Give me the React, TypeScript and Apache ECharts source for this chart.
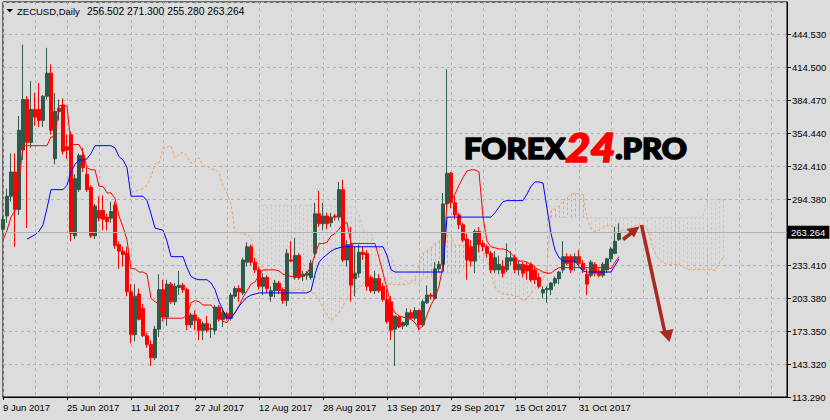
import React, { useEffect, useRef } from 'react';
import * as echarts from 'echarts';

// ---------- axis / categories ----------
const START_UTC = Date.UTC(2017, 5, 9);
const TOTAL_BARS = 197; // daily bars incl. the forward-shifted cloud area
const LAST_LABEL_INDEX = 154;
const MONTHS = ['Jan', 'Feb', 'Mar', 'Apr', 'May', 'Jun', 'Jul', 'Aug', 'Sep', 'Oct', 'Nov', 'Dec'];
const categories: string[] = Array.from({ length: TOTAL_BARS }, (_, i) => {
  const d = new Date(START_UTC + i * 86400000);
  return `${d.getUTCDate()} ${MONTHS[d.getUTCMonth()]} ${d.getUTCFullYear()}`;
});

const Y_MIN = 113.29;
const Y_STEP = 30.03;
const Y_MAX = 472.74;
// price-scale labels exactly as printed on the reference (one per gridline, bottom to top)
const yTickLabels = ['113.290', '143.320', '173.350', '203.380', '233.410', '', '294.380', '324.410', '354.440', '384.470', '414.500', '444.530'];
const LAST_PRICE = 263.264;
const TITLE_SYMBOL = 'ZECUSD,Daily';
const TITLE_OHLC = '256.502 271.300 255.280 263.264';

// ---------- candles ----------
const opens = [
  266, 278, 296, 318, 284, 338, 384, 345, 375, 375,
  365, 387, 408, 330, 373, 379, 341, 352, 260, 302,
  333, 316, 304, 260, 283, 283, 277, 276, 288, 252,
  246, 244, 209, 170, 207, 194, 169, 161, 149, 175,
  211, 186, 216, 200, 213, 215, 211, 179, 188, 184,
  174, 180, 175, 174, 195, 184, 189, 185, 205, 212,
  208, 236, 250, 236, 229, 214, 222, 205, 210, 217,
  211, 201, 238, 222, 242, 223, 224, 222, 244, 280,
  271, 278, 272, 278, 277, 302, 238, 252, 221, 226,
  245, 244, 222, 210, 221, 214, 202, 200, 175, 186,
  178, 179, 190, 185, 192, 179, 199, 206, 203, 230,
  234, 289, 317, 290, 279, 270, 257, 250, 237, 264,
  253, 250, 244, 229, 229, 232, 229, 237, 240, 229,
  234, 233, 234, 229, 222, 208, 211, 211, 217, 221,
  229, 241, 241, 236, 241, 235, 225, 224, 234, 228,
  224, 229, 239, 244, 256.502,
];
const highs = [
  278, 303, 335, 335, 369, 434, 387, 401, 390, 399,
  388, 431, 416, 390, 384, 385, 352, 355, 316, 335,
  340, 322, 306, 289, 296, 297, 280, 291, 291, 255,
  250, 250, 216, 216, 212, 198, 172, 165, 178, 225,
  220, 220, 218, 217, 228, 217, 213, 190, 192, 186,
  182, 187, 180, 197, 197, 194, 191, 208, 214, 215,
  240, 254, 252, 240, 232, 226, 224, 214, 220, 219,
  213, 248, 255, 258, 244, 228, 228, 238, 290, 301,
  290, 281, 281, 280, 309, 311, 256, 268, 250, 252,
  250, 247, 224, 228, 225, 217, 212, 205, 187, 188,
  182, 194, 193, 195, 193, 202, 215, 208, 236, 237,
  299, 411.5, 318, 296, 281, 272, 262, 256, 266, 268,
  256, 252, 246, 246, 242, 238, 253, 246, 243, 238,
  236, 236, 236, 233, 226, 214, 214, 218, 223, 228,
  255, 244, 243, 244, 247, 238, 230, 238, 236, 231,
  236, 240, 250, 268, 271.3,
];
const lows = [
  262, 272, 291, 250, 279, 329, 267, 340, 360, 359,
  359, 384, 352, 325, 365, 334, 330, 255, 257, 300,
  318, 300, 258, 257, 273, 265, 265, 272, 248, 230,
  232, 205, 162, 164, 183, 168, 158, 141.5, 147, 168,
  182, 178, 198, 197, 206, 208, 174, 176, 174, 165,
  165, 172, 167, 170, 182, 177, 183, 183, 203, 200,
  206, 232, 233, 226, 211, 206, 208, 200, 204, 207,
  198, 196, 236, 220, 220, 219, 220, 220, 240, 268,
  265, 266, 268, 274, 274, 236, 232, 200, 205, 222,
  238, 210, 208, 207, 208, 200, 180, 165, 141.5, 176,
  175, 177, 184, 183, 174, 177, 198, 202, 202, 227,
  229, 285, 285, 275, 266, 254, 220, 232, 226, 245,
  246, 240, 226, 226, 225, 222, 227, 233, 226, 224,
  222, 220, 218, 216, 212, 203, 199, 206, 214, 216,
  226, 233, 226, 228, 233, 226, 206, 222, 223, 222,
  222, 226, 236, 243, 255.28,
];
const closes = [
  275, 296, 318, 284, 356, 384, 345, 375, 368, 365,
  387, 408, 356, 373, 376, 337, 338, 262, 312, 333,
  322, 302, 260, 287, 276, 275, 273, 282, 251, 246,
  243, 209, 170, 205, 184, 169, 161, 149, 175, 211,
  186, 216, 200, 214, 215, 211, 179, 188, 183, 174,
  180, 174, 175.5, 195, 184, 190, 185, 206, 212, 209,
  238, 250, 236, 229, 214, 222, 212, 210, 217, 210,
  201, 244, 237, 242, 222, 225, 226, 235, 280, 271,
  278, 271, 277, 277, 302, 238, 252, 215, 226, 245,
  243, 214, 210, 221, 210, 202, 182, 174, 187, 177,
  181, 190, 185, 192, 179, 200, 206, 205, 230, 234,
  289, 317, 290, 279, 270, 256, 238, 237, 264, 252,
  250, 244, 229, 240, 234, 226, 240, 240, 229, 234,
  226, 228, 220, 220, 214, 211, 212, 217, 221, 227,
  241, 235, 229, 241, 235, 229, 216, 236, 226, 224,
  234, 239, 248, 255, 263.264,
];

// ---------- Ichimoku lines ----------
const tenkan = [
  256, 265, 277, 283, 309, 342, 342, 342, 342, 342,
  342, 342, 350, 350, 378, 379, 378, 343, 343, 343,
  336, 322, 320, 320, 305, 305, 299, 299, 294, 278,
  268, 256, 230, 230, 227, 227, 225, 203, 200, 198,
  185, 185, 185, 185, 185, 185, 188, 199, 201, 200,
  197, 197, 197, 192, 189, 182, 181, 187, 190, 196,
  204, 210, 216, 218, 224, 229, 229, 229, 229, 228,
  225, 224, 223, 223, 223, 224, 226, 232, 243, 253,
  253, 254, 260, 262, 266, 271, 272, 253, 253, 253,
  253, 253, 253, 253, 240, 226, 212, 197, 190, 187,
  186, 185, 184, 181, 175, 178, 188, 197, 204, 214,
  233, 290, 292, 298, 306, 313, 319, 320, 320, 318,
  277, 255, 250, 249, 248, 248, 247, 244, 240, 237,
  237, 236, 233, 231, 229, 227, 226, 226, 229, 231,
  231, 231, 231, 231, 231, 231, 231, 231, 231, 231,
  231, 231, 230, 236, 241,
];
const kijun = [
  null, null, null, null, null, null, 257, 259, 261, 264,
  270, 285, 302, 302, 302, 302, 306, 318, 325, 329,
  329, 330, 335, 342, 342, 342, 342, 342, 340, 332,
  329, 322, 296, 296, 296, 296, 292, 280, 267, 266,
  265, 255, 241, 241, 241, 241, 231, 223, 221, 220,
  220, 220, 217, 211, 200, 192, 185, 185, 190, 196,
  200, 204, 206, 207, 208, 208, 208, 208, 208, 208,
  208, 208, 208, 208, 208, 208, 208, 210, 225, 236,
  240, 243, 246, 248, 249, 250, 250, 250, 250, 250,
  250, 250, 250, 250, 250, 250, 242, 229, 227, 227,
  227, 227, 227, 227, 227, 227, 227, 227, 227, 227,
  227, 277, 277, 277, 277, 277, 277, 277, 277, 277,
  277, 277, 277, 281, 286, 291, 292, 292, 292, 292,
  292, 298, 305, 309, 309, 308, 285, 262, 247, 240,
  237, 237, 237, 237, 232, 228, 227, 227, 227, 227,
  227, 227, 227, 233, 239,
];
const SPAN_A_START = 32;
const spanAValues = [
  299.5, 300.5, 301.5, 303, 306, 313.5, 326, 326, 340, 340.5,
  342, 330.5, 334, 336, 332.5, 326, 327.5, 331, 323.5, 323.5,
  320.5, 320.5, 317, 305, 298.5, 289, 263, 263, 261.5, 261.5,
  258.5, 241.5, 233.5, 232, 225, 220, 213, 213, 213, 213,
  209.5, 211, 211, 210, 208.5, 208.5, 207, 201.5, 194.5, 187,
  183, 186, 190, 196, 202, 207, 211, 212.5, 216, 218.5,
  218.5, 218.5, 218.5, 218, 216.5, 216, 215.5, 215.5, 215.5, 216,
  217, 221, 234, 244.5, 246.5, 248.5, 253, 255, 257.5, 260.5,
  261, 251.5, 251.5, 251.5, 251.5, 251.5, 251.5, 251.5, 245, 238,
  227, 213, 208.5, 207, 206.5, 206, 205.5, 204, 201, 202.5,
  207.5, 212, 215.5, 220.5, 230, 283.5, 284.5, 287.5, 291.5, 295,
  298, 298.5, 298.5, 297.5, 277, 266, 263.5, 265, 267, 269.5,
  269.5, 268, 266, 264.5, 264.5, 267, 269, 270, 269, 267.5,
  255.5, 244, 238, 235.5, 234, 234, 234, 234, 231.5, 229.5,
  229, 229, 229, 229, 229, 229, 228.5, 234.5, 240,
];
const SPAN_B_START = 64;
const spanBValues = [
  287.75, 287.75, 287.75, 287.75, 287.75, 287.75, 287.75, 287.75, 287.75, 287.75,
  287.75, 287.75, 287.75, 287.75, 287.75, 287.75, 287.75, 287.75, 287.75, 286.25,
  286.25, 286.25, 286.25, 286.25, 286.25, 278.75, 265.75, 263.25, 263.25, 248.25,
  248.25, 240.75, 240.75, 240.75, 231.75, 223.75, 219.25, 219.25, 219.25, 216.25,
  216.25, 221.25, 221.25, 221.25, 221.25, 221.25, 225.25, 226.25, 226.25, 226.25,
  226.25, 229, 238, 238, 238, 238, 238, 238, 238, 238,
  226.25, 226.25, 226.25, 226.25, 226.25, 226.25, 226.25, 226.25, 226.25, 226.25,
  226.25, 226.25, 226.25, 276.5, 276.5, 276.5, 276.5, 276.5, 276.5, 276.5,
  276.5, 276.5, 276.5, 276.5, 276.5, 276.5, 276.5, 276.5, 276.5, 276.5,
  276.5, 276.5, 276.5, 276.5, 276.5, 276.5, 276.5, 276.5, 276.5, 276.5,
  276.5, 276.5, 276.5, 276.5, 276.5, 276.5, 276.5, 276.5, 276.5, 276.5,
  276.5, 276.5, 292.75, 292.75, 292.75, 292.75, 292.75,
];

// ---------- styles ----------
const BG = '#dcdcdc';
const GRID_LINE = '#b4b4b4';
const BULL = '#2f5a4a';
const BEAR = '#ff0000';
const SANDY = '#f4a460';
const THISTLE = '#d8bfd8';
const ARROW = '#a8291f';
const FONT = 'Liberation Sans';

export default function App() {
  const ref = useRef<HTMLDivElement>(null);

  useEffect(() => {
    if (!ref.current) return;
    const chart = echarts.init(ref.current, null, { renderer: 'svg' });

    const pad = (start: number, vals: number[]) =>
      Array.from({ length: TOTAL_BARS }, (_, i) =>
        i >= start && i < start + vals.length ? vals[i - start] : null
      );
    const spanA = pad(SPAN_A_START, spanAValues);
    const spanB = pad(SPAN_B_START, spanBValues);
    const cloud: number[][] = [];
    for (let i = 0; i < TOTAL_BARS; i++) {
      if (spanA[i] != null && spanB[i] != null) cloud.push([i, spanA[i] as number, spanB[i] as number]);
    }
    const candles = opens.map((o, i) => [o, closes[i], lows[i], highs[i]]);

    const option: any = {
      animation: false,
      backgroundColor: BG,
      grid: {
        left: 3,
        right: 43,
        top: 2,
        bottom: 23,
        show: true,
        borderColor: '#000',
        borderWidth: 1,
        backgroundColor: 'transparent',
      },
      xAxis: {
        type: 'category',
        data: categories,
        boundaryGap: false,
        axisLine: { show: true, lineStyle: { color: '#000', width: 1 } },
        axisTick: {
          show: true,
          length: 3,
          interval: (idx: number) => idx % 16 === 0 && idx <= LAST_LABEL_INDEX,
          lineStyle: { color: '#000' },
        },
        axisLabel: {
          interval: (idx: number) => idx % 16 === 0 && idx <= LAST_LABEL_INDEX,
          align: 'left',
          margin: 5,
          color: '#000',
          fontSize: 9.5,
          fontFamily: FONT,
        },
        splitLine: {
          show: true,
          interval: (idx: number) => idx % 8 === 0,
          lineStyle: { color: GRID_LINE, type: [3, 3], width: 1 },
        },
      },
      yAxis: {
        type: 'value',
        position: 'right',
        min: Y_MIN,
        max: Y_MAX,
        interval: Y_STEP,
        axisLine: { show: true, lineStyle: { color: '#000', width: 1 } },
        axisTick: { show: true, length: 4, lineStyle: { color: '#000' } },
        axisLabel: {
          showMaxLabel: false,
          formatter: (v: number) => {
            const k = Math.round((v - Y_MIN) / Y_STEP);
            return yTickLabels[k] ?? '';
          },
          margin: 5,
          color: '#000',
          fontSize: 9.5,
          fontFamily: FONT,
        },
        splitLine: { show: true, lineStyle: { color: GRID_LINE, type: [3, 3], width: 1 } },
      },
      series: [
        {
          type: 'custom',
          name: 'cloud',
          silent: true,
          z: 1,
          data: cloud,
          encode: { x: 0, y: [1, 2] },
          renderItem: (params: any, api: any) => {
            const i = api.value(0);
            const a = api.value(1);
            const b = api.value(2);
            const p1 = api.coord([i, a]);
            const p2 = api.coord([i, b]);
            const x = Math.round(p1[0]) + 0.5;
            return {
              type: 'line',
              shape: { x1: x, y1: p1[1], x2: x, y2: p2[1] },
              style: { stroke: a >= b ? SANDY : THISTLE, lineWidth: 1, lineDash: [3, 2] },
              silent: true,
            };
          },
        },
        {
          type: 'line',
          name: 'Senkou Span A',
          data: spanA,
          showSymbol: false,
          silent: true,
          z: 2,
          lineStyle: { color: SANDY, width: 1, type: [3, 2] },
        },
        {
          type: 'line',
          name: 'Senkou Span B',
          data: spanB,
          showSymbol: false,
          silent: true,
          z: 2,
          lineStyle: { color: THISTLE, width: 1, type: [3, 2] },
        },
        {
          type: 'candlestick',
          name: 'ZECUSD',
          data: candles,
          barWidth: 3,
          silent: true,
          z: 3,
          itemStyle: {
            color: BULL,
            color0: BEAR,
            borderColor: BULL,
            borderColor0: BEAR,
            borderWidth: 1,
          },
          markLine: {
            silent: true,
            symbol: ['none', 'none'],
            data: [{ yAxis: LAST_PRICE }],
            lineStyle: { color: '#b0b0b0', type: 'solid', width: 1 },
            label: {
              show: true,
              position: 'end',
              formatter: LAST_PRICE.toFixed(3),
              color: '#fff',
              backgroundColor: '#000',
              padding: [2, 4, 1, 3],
              fontSize: 9.5,
              fontFamily: FONT,
              distance: 1,
            },
          },
        },
        {
          type: 'line',
          name: 'Tenkan-sen',
          data: tenkan,
          showSymbol: false,
          silent: true,
          z: 4,
          lineStyle: { color: '#ff0000', width: 1 },
        },
        {
          type: 'line',
          name: 'Kijun-sen',
          data: kijun,
          showSymbol: false,
          silent: true,
          z: 4,
          lineStyle: { color: '#0000ff', width: 1 },
        },
      ],
      graphic: [
        {
          type: 'polygon',
          shape: { points: [[6.5, 9], [13, 9], [9.75, 12.5]] },
          style: { fill: '#000' },
          z: 50,
        },
        {
          type: 'text',
          x: 17,
          y: 11,
          z: 50,
          style: { text: TITLE_SYMBOL, fill: '#000', fontSize: 9.5, fontFamily: FONT, verticalAlign: 'middle' },
        },
        {
          type: 'text',
          x: 87,
          y: 11,
          z: 50,
          style: { text: TITLE_OHLC, fill: '#000', fontSize: 10.3, fontFamily: FONT, verticalAlign: 'middle' },
        },
        {
          type: 'text',
          x: 464,
          y: 147,
          z: 60,
          scaleX: 1.07,
          style: {
            text: '{a|FOREX}{b|24}{a|.PRO}',
            verticalAlign: 'middle',
            rich: {
              a: { fontFamily: 'Lato', fontWeight: 900, fontSize: 29, fill: '#000', stroke: '#000', lineWidth: 1.6 },
              b: { fontFamily: 'Lato', fontWeight: 900, fontStyle: 'italic', fontSize: 40, fill: '#ff0000', stroke: '#ff0000', lineWidth: 1.6 },
            },
          },
        },
        {
          type: 'line',
          z: 70,
          shape: { x1: 623, y1: 239.5, x2: 632, y2: 232.5 },
          style: { stroke: ARROW, lineWidth: 3.5 },
        },
        {
          type: 'polygon',
          z: 70,
          shape: { points: [[626.5, 229], [639.5, 226.5], [634, 237.5]] },
          style: { fill: ARROW },
        },
        {
          type: 'line',
          z: 70,
          shape: { x1: 641.5, y1: 225, x2: 665, y2: 333 },
          style: { stroke: ARROW, lineWidth: 3.5 },
        },
        {
          type: 'polygon',
          z: 70,
          shape: { points: [[659.5, 331.5], [673.5, 329], [669.5, 342]] },
          style: { fill: ARROW },
        },
      ],
    };

    chart.setOption(option);
    return () => chart.dispose();
  }, []);

  return <div ref={ref} style={{ position: 'fixed', left: 0, top: 0, width: 830, height: 420 }} />;
}
